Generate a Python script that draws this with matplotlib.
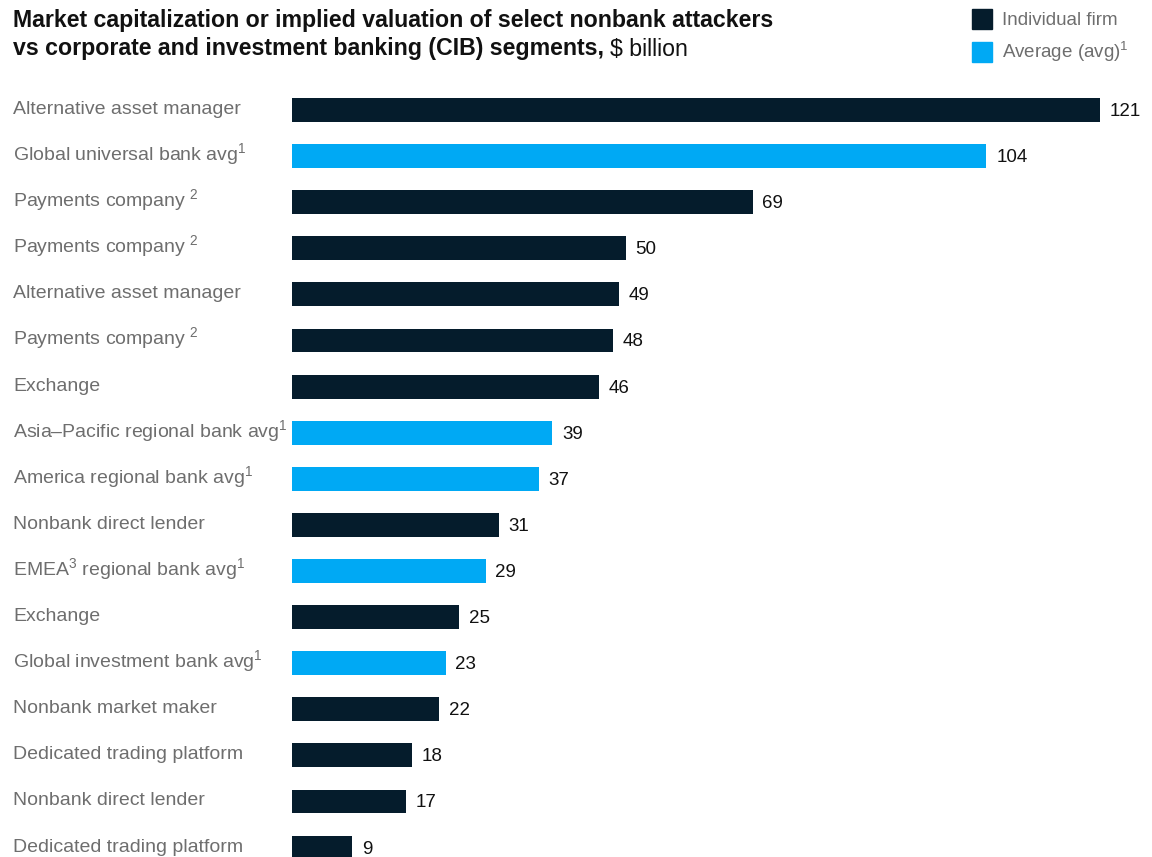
import matplotlib.pyplot as plt
from matplotlib.patches import Rectangle
from matplotlib.transforms import blended_transform_factory

plt.rcParams['font.family'] = ['Liberation Sans', 'DejaVu Sans']
plt.rcParams['mathtext.fontset'] = 'custom'
plt.rcParams['mathtext.rm'] = 'Liberation Sans'
plt.rcParams['mathtext.default'] = 'rm'

labels = ['Alternative asset manager', 'Global universal bank avg$^1$', 'Payments company $^2$',
          'Payments company $^2$', 'Alternative asset manager', 'Payments company $^2$', 'Exchange',
          'Asia–Pacific regional bank avg$^1$', 'America regional bank avg$^1$', 'Nonbank direct lender',
          'EMEA$^3$ regional bank avg$^1$', 'Exchange', 'Global investment bank avg$^1$',
          'Nonbank market maker', 'Dedicated trading platform', 'Nonbank direct lender',
          'Dedicated trading platform']
values = [121, 104, 69, 50, 49, 48, 46, 39, 37, 31, 29, 25, 23, 22, 18, 17, 9]
is_avg = [False, True, False, False, False, False, False, True, True, False,
          True, False, True, False, False, False, False]

DARK = '#051C2C'
BLUE = '#00A9F4'
GRAY = '#6E6E6E'

W, H = 1152, 857
fig = plt.figure(figsize=(W / 100, H / 100), dpi=100)

# axes from x=292px to right edge, y=80px to bottom
ax = fig.add_axes([292 / W, 0, 1 - 292 / W, 1 - 80 / H])
px_per_unit = (1100 - 292) / 121
ax.set_xlim(0, (W - 292) / px_per_unit)
step = 46.1
ax.set_ylim((H - 110) / step, -(110 - 80) / step)

ypos = list(range(len(values)))
colors = [BLUE if a else DARK for a in is_avg]
ax.barh(ypos, values, height=0.52, color=colors)

for y, v in zip(ypos, values):
    ax.annotate(str(v), (v, y), xytext=(7, -4.3), textcoords='offset points',
                ha='left', va='baseline', fontsize=13.5, color='#111111')

# category labels at the left edge of the figure
trans = blended_transform_factory(fig.transFigure, ax.transData)
for y, lab in zip(ypos, labels):
    ax.text(13 / W, y + 4 / step, lab, transform=trans, ha='left', va='baseline',
            fontsize=14, color=GRAY, clip_on=False)

for s in ax.spines.values():
    s.set_visible(False)
ax.set_xticks([])
ax.set_yticks([])

# title
fig.text(13 / W, 1 - 21 / H, 'Market capitalization or implied valuation of select nonbank attackers',
         ha='left', va='center', fontsize=16.7, fontweight='bold', color='#111111')
t2 = fig.text(13 / W, 1 - 49 / H, 'vs corporate and investment banking (CIB) segments,',
              ha='left', va='center', fontsize=16.7, fontweight='bold', color='#111111')
fig.canvas.draw()
bb = t2.get_window_extent()
fig.text(bb.x1 / W + 6 / W, 1 - 49 / H, r'\$ billion', ha='left', va='center',
         fontsize=16.7, color='#111111')

# legend
for i, (c, lab) in enumerate([(DARK, 'Individual firm'), (BLUE, 'Average (avg)$^1$')]):
    yc = 19 + 33 * i
    fig.patches.append(Rectangle((972 / W, 1 - (yc + 10) / H), 20 / W, 20 / H,
                                 transform=fig.transFigure, color=c))
    fig.text(1002 / W, 1 - (yc + 6) / H, lab, ha='left', va='baseline', fontsize=13.5, color=GRAY)

fig.savefig('out.png', dpi=100)
